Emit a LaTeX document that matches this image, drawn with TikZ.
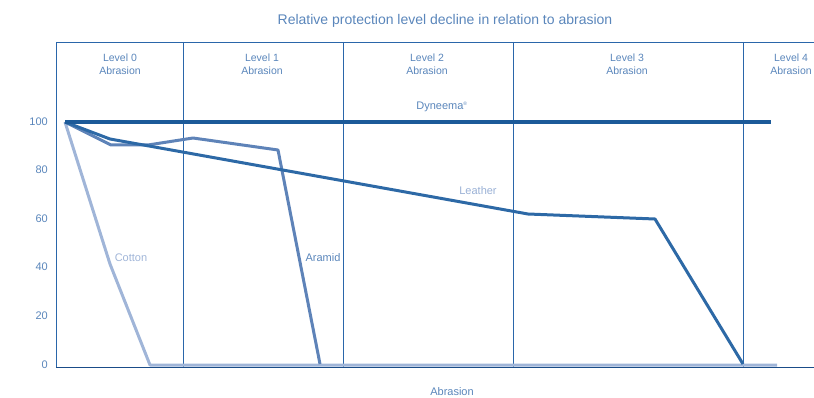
\documentclass[tikz,border=0pt]{standalone}
\usepackage{fontspec}
\setmainfont{Liberation Sans}
\begin{document}
\begin{tikzpicture}[x=1pt,y=-1pt,
  txt/.style={text=labc,font=\fontsize{10.5}{13}\selectfont,inner sep=0pt,align=center},
  ctxt/.style={txt,font=\fontsize{11}{13}\selectfont},
  grid/.style={draw=gridc,line width=0.85pt},
  curve/.style={line width=3pt,line join=round}]
\definecolor{labc}{HTML}{5A86BB}
\definecolor{gridc}{HTML}{2A66AA}
\definecolor{axisc}{HTML}{1A4C88}
\definecolor{dync}{HTML}{1C5A99}
\definecolor{leac}{HTML}{2D69A6}
\definecolor{arac}{HTML}{5E83B8}
\definecolor{cotc}{HTML}{A0B5D8}
\useasboundingbox (0,0) rectangle (814,398);
% frame
\draw[grid] (56,42) -- (814,42);
\draw[grid] (56,42) -- (56,367);
\foreach \x in {183,343,513,743} \draw[grid] (\x,42) -- (\x,367);
% title
\node[txt,font=\fontsize{14}{16}\selectfont] (title) at (445,21) {Relative protection level decline in relation to abrasion};
% level labels
\node[txt] (l0) at (120,64) {Level 0\\Abrasion};
\node[txt] (l1) at (262,64) {Level 1\\Abrasion};
\node[txt] (l2) at (427,64) {Level 2\\Abrasion};
\node[txt] (l3) at (627,64) {Level 3\\Abrasion};
\node[txt] (l4) at (791,64) {Level 4\\Abrasion};
% y labels
\foreach \v/\y in {100/122,80/170,60/219,40/267,20/316,0/365}
  \node[ctxt,anchor=east] at (48,\y) {\v};
% cotton
\draw[curve,cotc] (65,122) -- (110,264) -- (150,365) -- (777,365);
% aramid
\draw[curve,arac] (65,122) -- (111,145) -- (148,145) -- (193,138) -- (278,150) -- (320,364);
% leather
\draw[curve,leac] (65,122) -- (110,139) -- (528,214) -- (655,219) -- (743,364);
% dyneema
\draw[line width=3.4pt,dync] (65,122) -- (771,122);
% bottom axis
\draw[draw=axisc,line width=1pt] (56,367) -- (814,367);
% curve labels
\node[ctxt] (dy) at (442,107) {Dyneema\textsuperscript{\tiny ®}};
\node[ctxt,text=cotc!90!labc] (le) at (478,191) {Leather};
\node[ctxt,text=cotc] (co) at (131,258) {Cotton};
\node[ctxt] (ar) at (323,258) {Aramid};
\node[ctxt] (xl) at (452,392) {Abrasion};
\end{tikzpicture}
\end{document}
